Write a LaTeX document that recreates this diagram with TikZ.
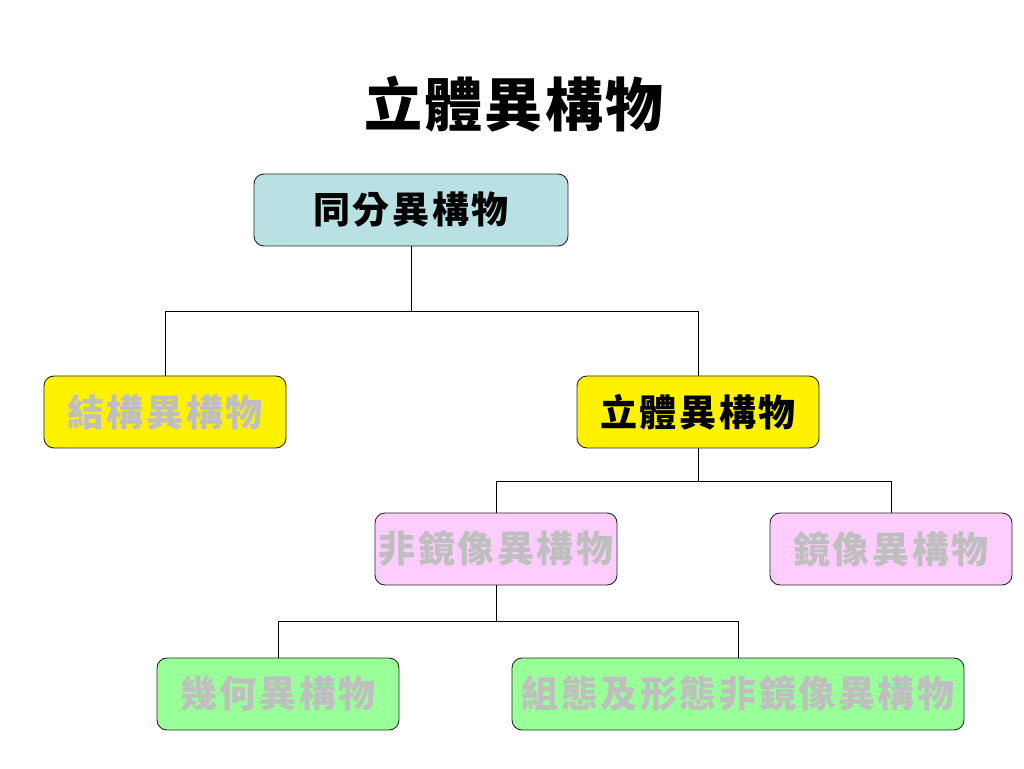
\documentclass[tikz,border=0pt]{standalone}
\usepackage{fontspec}
\setmainfont{Noto Sans CJK TC}
\newfontfamily\boxfont[LetterSpace=7]{Noto Sans CJK TC}
\newfontfamily\titlefont[LetterSpace=4]{Noto Sans CJK TC}
\begin{document}
\begin{tikzpicture}[x=1pt,y=1pt,
  box/.style={draw=black!85, line width=0.9pt, rounded corners=10pt, minimum height=72pt, inner sep=0pt, font=\boxfont\fontsize{37}{40}\selectfont\bfseries},
  conn/.style={draw=black, line width=0.9pt},
  greytext/.style={text=black!25}]
\useasboundingbox (0,0) rectangle (1024,768);
\fill[white] (0,0) rectangle (1024,768);
\node (title) at (514,664) {\titlefont\fontsize{58}{62}\selectfont\bfseries 立體異構物};
\node[box, fill={rgb,255:red,185;green,224;blue,227}, minimum width=314pt] (iso) at (411,558) {同分異構物};
\node[box, fill=yellow, greytext, minimum width=242pt] (struct) at (165,356) {結構異構物};
\node[box, fill=yellow, minimum width=242pt] (stereo) at (698,356) {立體異構物};
\node[box, fill={rgb,255:red,255;green,204;blue,255}, greytext, minimum width=242pt] (dia) at (496,219) {非鏡像異構物};
\node[box, fill={rgb,255:red,255;green,204;blue,255}, greytext, minimum width=242pt] (enan) at (891,219) {鏡像異構物};
\node[box, fill={rgb,255:red,153;green,255;blue,153}, greytext, minimum width=242pt] (geo) at (278,74) {幾何異構物};
\node[box, fill={rgb,255:red,153;green,255;blue,153}, greytext, minimum width=452pt] (conf) at (738,74) {組態及形態非鏡像異構物};
\draw[conn] (iso.south) -- ++(0,-65) -| (struct.north);
\draw[conn] (iso.south) -- ++(0,-65) -| (stereo.north);
\draw[conn] (stereo.south) -- ++(0,-33) -| (dia.north);
\draw[conn] (stereo.south) -- ++(0,-33) -| (enan.north);
\draw[conn] (dia.south) -- ++(0,-36) -| (geo.north);
\draw[conn] (dia.south) -- ++(0,-36) -| (conf.north);
\end{tikzpicture}
\end{document}
